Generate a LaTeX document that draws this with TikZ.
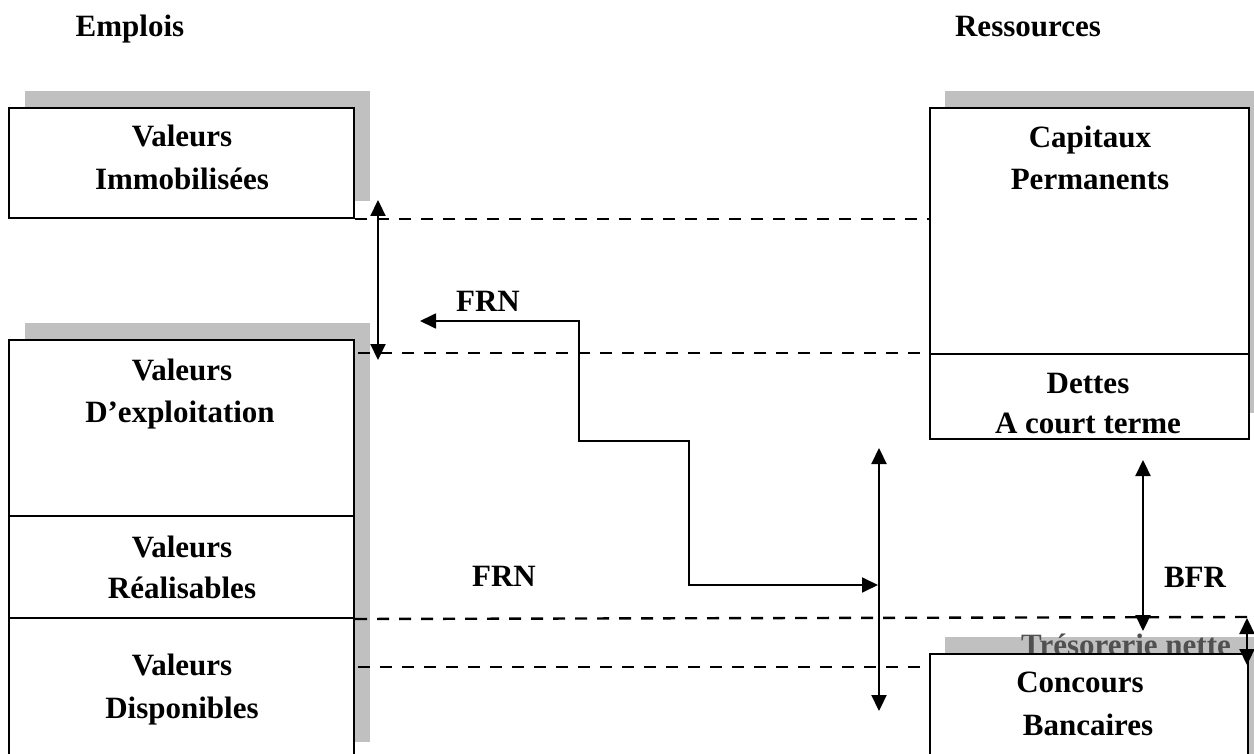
\documentclass[tikz,border=0pt]{standalone}
\usepackage{fontspec}
\setmainfont{Liberation Serif}
\usetikzlibrary{arrows.meta}
\definecolor{shadowgray}{RGB}{192,192,192}
\definecolor{tngray}{RGB}{80,80,80}
\tikzset{
  panel/.style={draw=black, line width=2pt, fill=white, inner sep=0pt,
                anchor=north west, rectangle},
  lbl/.style={font=\fontsize{31}{43}\selectfont\bfseries, anchor=base, inner sep=0pt},
  guide/.style={dash pattern=on 12pt off 10pt, line width=2.4pt},
  tip/.style={Triangle[length=16pt,width=15pt]},
  span/.style={{Triangle[length=16pt,width=15pt]}-{Triangle[length=16pt,width=15pt]}, line width=2.2pt},
}
\begin{document}
\begin{tikzpicture}[x=1pt, y=-1pt]
\useasboundingbox (0,0) rectangle (1254,754);
\clip (0,0) rectangle (1254,754);

% headings
\node[lbl] (emp) at (130,37) {Emplois};
\node[lbl] (res) at (1028,37) {Ressources};

% drop shadows
\fill[shadowgray] (25,91) rectangle (370,201);
\fill[shadowgray] (25,323) rectangle (370,742);
\fill[shadowgray] (945,91) rectangle (1265,413);
\fill[shadowgray] (945,637) rectangle (1265,770);

% label partly covered by the bank box
\node[lbl, text=tngray] (tn) at (1126,655) {Trésorerie nette};

% assets
\node[panel, minimum width=345pt, minimum height=110pt] (vi) at (8,107) {};
\node[panel, minimum width=345pt, minimum height=176pt] (ve) at (8,339) {};
\node[panel, minimum width=345pt, minimum height=102pt] (vr) at (8,515) {};
\node[panel, minimum width=345pt, minimum height=160pt] (vd) at (8,617) {};

% liabilities
\node[panel, minimum width=319pt, minimum height=246pt] (cp) at (929,107) {};
\node[panel, minimum width=319pt, minimum height=85pt] (dct) at (929,353) {};
\node[panel, minimum width=318pt, minimum height=130pt] (cb) at (929,653) {};

% box texts
\node[lbl] (vi1) at (182,147) {Valeurs};
\node[lbl] (vi2) at (182,190) {Immobilisées};
\node[lbl] (ve1) at (182,380) {Valeurs};
\node[lbl] (ve2) at (180,422) {D’exploitation};
\node[lbl] (vr1) at (182,557) {Valeurs};
\node[lbl] (vr2) at (182,598) {Réalisables};
\node[lbl] (vd1) at (182,675) {Valeurs};
\node[lbl] (vd2) at (182,718) {Disponibles};
\node[lbl] (cp1) at (1090,148) {Capitaux};
\node[lbl] (cp2) at (1090,190) {Permanents};
\node[lbl] (dc1) at (1088,393) {Dettes};
\node[lbl] (dc2) at (1088,433) {A court terme};
\node[lbl] (cb1) at (1080,692) {Concours};
\node[lbl] (cb2) at (1088,735) {Bancaires};

% arrow labels
\node[lbl] (frn1) at (488,312) {FRN};
\node[lbl] (frn2) at (504,586) {FRN};
\node[lbl] (bfr) at (1195,587) {BFR};

% dashed level lines
\coordinate (g2) at (358,353);
\coordinate (g3) at (1254,617);
\coordinate (g4) at (358,667);
\draw[guide] (vi.south east) -- (vi.south east -| cp.west);
\draw[guide] (g2) -- (dct.north west);
\draw[guide] (vr.south east) -- (g3);
\draw[guide] (g4) -- (g4 -| cb.west);

% arrows
\coordinate (a1t) at (378,200);
\coordinate (a1b) at (378,360);
\draw[span] (a1t) -- (a1b);

\coordinate (f0) at (420,321);
\coordinate (f1) at (579,321);
\coordinate (f2) at (579,441);
\coordinate (f3) at (689,441);
\coordinate (f4) at (689,585);
\coordinate (f5) at (878,585);
\draw[span, line width=1.8pt] (f0) -- (f1) -- (f2) -- (f3) -- (f4) -- (f5);

\coordinate (a2t) at (879,448);
\coordinate (a2b) at (879,711);
\draw[span] (a2t) -- (a2b);

\coordinate (bt) at (1143,460);
\coordinate (bb) at (1143,631);
\draw[span] (bt) -- (bb);

\coordinate (tt) at (1247,618);
\coordinate (tb) at (1247,665);
\draw[span] (tt) -- (tb);
\end{tikzpicture}
\end{document}
